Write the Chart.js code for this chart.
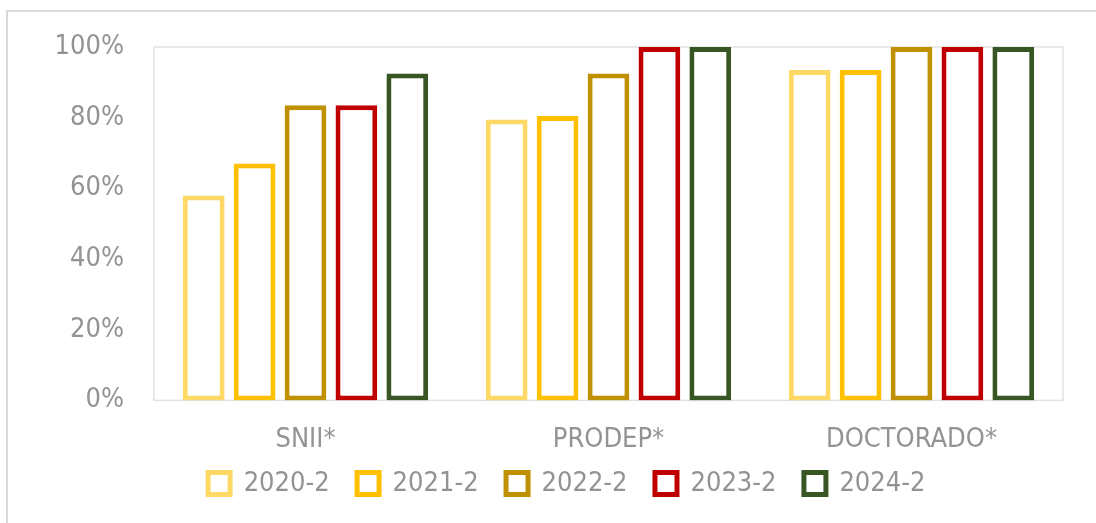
<!DOCTYPE html>
<html>
<head>
<meta charset="utf-8">
<script src="https://cdn.jsdelivr.net/npm/chart.js@4.4.1/dist/chart.umd.min.js"></script>
<style>
  html, body { margin: 0; padding: 0; background: #fff; }
  #frame {
    position: absolute; left: 6px; top: 10px; width: 1200px; height: 600px;
    border-left: 2px solid #d9d9d9; border-top: 2px solid #d9d9d9;
  }
  #wrap { position: absolute; left: 0; top: 0; width: 1096px; height: 523px; }
</style>
</head>
<body>
<div id="frame"></div>
<div id="wrap"><canvas id="chart"></canvas></div>
<script>
// Categories and series (percent)
const categories = ['SNII*', 'PRODEP*', 'DOCTORADO*'];
const periods = ['2020-2', '2021-2', '2022-2', '2023-2', '2024-2'];
const values2020 = [58, 79.5, 93.5];
const values2021 = [67, 80.5, 93.5];
const values2022 = [83.5, 92.5, 100];
const values2023 = [83.5, 100, 100];
const values2024 = [92.5, 100, 100];
const yTicks = [0, 20, 40, 60, 80, 100];

const SERIES_COLORS = ['#FFD966', '#FFC000', '#BF9000', '#C00000', '#375623'];
const FONT = { family: '"DejaVu Sans Condensed", "Liberation Sans Narrow", "Liberation Sans", sans-serif', size: 27, weight: 'normal' };
const TEXT_COLOR = '#939393';

// outline of the plot area (all four sides)
const plotBox = {
  id: 'plotBox',
  beforeDatasetsDraw(chart) {
    const { ctx, chartArea: a } = chart;
    ctx.save();
    ctx.strokeStyle = '#e2e2e2';
    ctx.lineWidth = 1.5;
    ctx.strokeRect(a.left, a.top, a.right - a.left, a.bottom - a.top);
    ctx.restore();
  }
};

const seriesValues = [values2020, values2021, values2022, values2023, values2024];

new Chart(document.getElementById('chart').getContext('2d'), {
  type: 'bar',
  data: {
    labels: categories,
    datasets: periods.map((p, i) => ({
      label: p,
      data: seriesValues[i],
      backgroundColor: '#ffffff',
      borderColor: SERIES_COLORS[i],
      borderWidth: 5,
      borderSkipped: false,
      categoryPercentage: 0.84,
      barPercentage: 0.82,
    }))
  },
  options: {
    responsive: true,
    maintainAspectRatio: false,
    animation: false,
    layout: { padding: { left: 54, right: 1, top: 47, bottom: 16 } },
    plugins: {
      tooltip: { enabled: false },
      legend: {
        position: 'bottom',
        labels: {
          color: TEXT_COLOR,
          font: FONT,
          boxWidth: 22,
          boxHeight: 22,
          padding: 12,
          // trailing spaces widen the gap between items like the original
          generateLabels: (chart) => Chart.defaults.plugins.legend.labels.generateLabels(chart)
            .map(item => ({ ...item, text: item.text + '  ' }))
        }
      }
    },
    scales: {
      x: {
        afterFit: (scale) => { scale.height = 57.6; },
        grid: { display: false },
        border: { display: false },
        ticks: { color: TEXT_COLOR, font: FONT, padding: 15 }
      },
      y: {
        min: 0,
        max: 100,
        afterBuildTicks: (scale) => { scale.ticks = yTicks.map(v => ({ value: v })); },
        afterFit: (scale) => { scale.width = 100; },
        grid: { display: false, drawTicks: false },
        border: { display: false },
        ticks: { color: TEXT_COLOR, font: FONT, padding: 30, callback: v => v + '%' }
      },
      // empty right-hand axis, only reserves the space right of the plot
      yRight: {
        position: 'right',
        afterFit: (scale) => { scale.width = 32; },
        grid: { display: false, drawTicks: false },
        border: { display: false },
        ticks: { display: false }
      }
    }
  },
  plugins: [plotBox]
});
</script>
</body>
</html>
